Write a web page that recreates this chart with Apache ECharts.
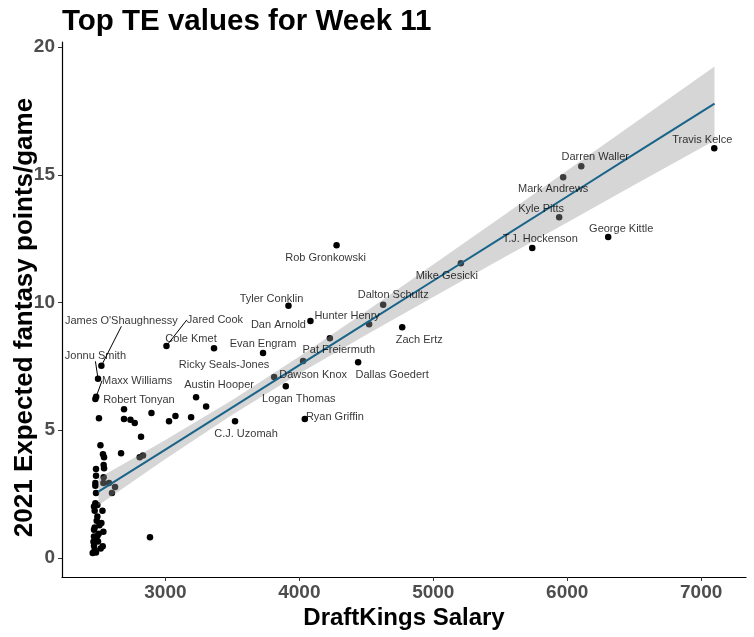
<!DOCTYPE html>
<html>
<head>
<meta charset="utf-8">
<script src="https://cdn.jsdelivr.net/npm/echarts@6/dist/echarts.min.js"></script>
<style>
html,body{margin:0;padding:0;background:#fff;}
#chart{width:754px;height:637px;}
</style>
</head>
<body>
<div id="chart"></div>
<script>
// ---- data ----
const playerNames = ["Travis Kelce","Darren Waller","Mark Andrews","Kyle Pitts","George Kittle","T.J. Hockenson",
  "Mike Gesicki","Rob Gronkowski","Dalton Schultz","Hunter Henry","Pat Freiermuth","Zach Ertz","Tyler Conklin",
  "Dan Arnold","Evan Engram","Cole Kmet","Ricky Seals-Jones","Dawson Knox","Logan Thomas","Dallas Goedert",
  "Austin Hooper","C.J. Uzomah","Ryan Griffin","Robert Tonyan"];
const playerSalary = [7098,6105,5970,5940,6306,5739,5206,4278,4626,4521,4228,4768,3919,4083,3729,3363,4028,3812,3899,4439,3229,3520,4041,2477];
const playerPoints = [16.04,15.33,14.90,13.34,12.56,12.13,11.54,12.24,9.91,9.15,8.60,9.03,9.87,9.27,8.02,8.21,7.71,7.08,6.72,7.66,6.29,5.35,5.44,6.22];

// labelled players whose labels are connected by a segment
const segNames = ["Jared Cook","James O'Shaughnessy","Jonnu Smith","Maxx Williams"];
const segSalary = [3008,2522,2497,2483];
const segPoints = [8.30,7.52,7.01,6.31];

// unlabelled players
const otherSalary = [2691,2504,2691,2739,2771,2896,3027,3075,3192,3304,2818,2515,2534,2542,2669,2808,2833,2539,2542,2482,
  2482,2539,2477,2477,2537,2579,2482,2624,2601,2477,2492,2467,2472,2530,2492,2487,2522,2507,2472,2467,2537,2502,2467,2492,
  2497,2463,2532,2517,2467,2472,2457,2482,2885];
const otherPoints = [5.82,5.47,5.44,5.41,5.28,5.67,5.35,5.55,5.51,5.93,4.74,4.41,4.06,3.94,4.10,3.94,4.01,3.64,3.51,3.48,
  3.21,3.16,2.93,2.82,2.93,2.93,2.54,2.77,2.54,2.14,2.07,2.01,1.84,1.84,1.62,1.45,1.36,1.28,1.19,1.10,1.02,0.94,0.84,0.86,
  0.64,0.63,0.45,0.37,0.47,0.32,0.19,0.21,0.81];

// fitted line and its confidence band
const fitX  = [2500,3000,3500,4000,4500,5000,5500,6000,6500,7100];
const fitY  = [2.59,4.24,5.89,7.55,9.20,10.85,12.50,14.15,15.81,17.79];
const fitLo = [2.06,3.87,5.60,7.22,8.74,10.21,11.68,13.13,14.60,16.34];
const fitHi = [3.12,4.61,6.18,7.88,9.66,11.49,13.32,15.17,17.02,19.24];

const xTicks = [3000,4000,5000,6000,7000];
const yTicks = [0,5,10,15,20];

// ---- label placement (style) ----
const labelOffsets = {
  "Travis Kelce":[-12,-8],"Darren Waller":[14,-9],"Mark Andrews":[-10,12],"Kyle Pitts":[-18,-8],
  "George Kittle":[13,-8],"T.J. Hockenson":[8,-9],"Mike Gesicki":[-14,13],"Rob Gronkowski":[-11,13],
  "Dalton Schultz":[10,-10],"Hunter Henry":[-22,-8],"Pat Freiermuth":[9,12],"Zach Ertz":[17,13],
  "Tyler Conklin":[-17,-7],"Dan Arnold":[-32,4],"Evan Engram":[0,-9],"Cole Kmet":[-23,-9],
  "Ricky Seals-Jones":[-79,4],"Dawson Knox":[39,-2],"Logan Thomas":[13,13],"Dallas Goedert":[34,13],
  "Austin Hooper":[23,-12],"C.J. Uzomah":[11,12.5],"Ryan Griffin":[30,-2],"Robert Tonyan":[43.6,1]
};
const segOffsets = {
  "Jared Cook":[48.5,-26],"James O'Shaughnessy":[20,-45],"Jonnu Smith":[-2.6,-23],"Maxx Williams":[41,-16]
};

const FONT = "Liberation Sans, Arial, Helvetica, sans-serif";

const allDots = []
  .concat(otherSalary.map((x,i)=>[x, otherPoints[i]]))
  .concat(playerSalary.map((x,i)=>[x, playerPoints[i]]))
  .concat(segSalary.map((x,i)=>[x, segPoints[i]]));

const labelData = playerSalary.map((x,i)=>({
  name: playerNames[i], value:[x, playerPoints[i]],
  label:{offset: labelOffsets[playerNames[i]]}
}));
const segData = segSalary.map((x,i)=>({name: segNames[i], value:[x, segPoints[i]]}));

const chart = echarts.init(document.getElementById('chart'), null, {renderer:'canvas'});
chart.setOption({
  animation:false,
  backgroundColor:'#ffffff',
  title:{
    text:'Top TE values for Week 11', left:62, top:7, padding:0,
    textStyle:{fontFamily:FONT, fontSize:29.5, fontWeight:'bold', color:'#000'}
  },
  grid:{left:62, right:8, top:42, bottom:60, containLabel:false, outerBoundsMode:'none'},
  xAxis:{
    type:'value', min:2228, max:7335,
    name:'DraftKings Salary', nameLocation:'middle', nameGap:29, nameMoveOverlap:false,
    nameTextStyle:{fontFamily:FONT, fontSize:24, fontWeight:'bold', color:'#000'},
    axisLine:{show:true, onZero:false, lineStyle:{color:'#000', width:1.2}},
    axisTick:{show:true, length:4, lineStyle:{color:'#333'}, customValues:xTicks},
    axisLabel:{fontFamily:FONT, fontSize:19, fontWeight:'bold', color:'#4d4d4d', margin:6,
      customValues:xTicks, formatter:function(v){return String(v);}},
    splitLine:{show:false}
  },
  yAxis:{
    type:'value', min:-0.75, max:20.2,
    name:'2021 Expected fantasy points/game', nameLocation:'middle', nameGap:24, nameRotate:90, nameMoveOverlap:false,
    nameTextStyle:{fontFamily:FONT, fontSize:26, fontWeight:'bold', color:'#000', padding:[0,16,0,0]},
    axisLine:{show:true, onZero:false, lineStyle:{color:'#000', width:1.2}},
    axisTick:{show:true, length:4, lineStyle:{color:'#333'}, customValues:yTicks},
    axisLabel:{fontFamily:FONT, fontSize:19, fontWeight:'bold', color:'#4d4d4d', margin:7,
      customValues:yTicks, formatter:function(v){return String(v);}},
    splitLine:{show:false}
  },
  series:[
    {
      type:'scatter', name:'dots', z:2, silent:true,
      symbol:'circle', symbolSize:6.5,
      itemStyle:{color:'#000', opacity:1},
      data: allDots
    },
    {
      type:'custom', name:'band', z:3, silent:true,
      data: fitX.map((x,i)=>[x, fitLo[i], fitHi[i]]),
      encode:{x:0, y:[1,2]},
      renderItem:function(params, api){
        if (params.dataIndex !== 0) return null;
        const up = fitX.map((x,i)=>api.coord([x, fitHi[i]]));
        const lo = fitX.map((x,i)=>api.coord([x, fitLo[i]])).reverse();
        return {type:'polygon', shape:{points: up.concat(lo)},
          style:{fill:'rgba(153,153,153,0.4)', stroke:null}};
      }
    },
    {
      type:'line', name:'fit', z:4, silent:true,
      symbol:'none', smooth:false,
      lineStyle:{color:'#1a6489', width:2},
      data: fitX.map((x,i)=>[x, fitY[i]])
    },
    {
      type:'scatter', name:'labels', z:6, silent:true,
      symbol:'circle', symbolSize:1, itemStyle:{color:'rgba(0,0,0,0)'},
      label:{show:true, position:'inside', formatter:'{b}',
        fontFamily:FONT, fontSize:11, color:'#000', textBorderWidth:0},
      data: labelData
    },
    {
      type:'scatter', name:'segLabels', z:6, silent:true,
      symbol:'circle', symbolSize:1, itemStyle:{color:'rgba(0,0,0,0)'},
      label:{show:true, position:'inside', formatter:'{b}',
        fontFamily:FONT, fontSize:11, color:'#000', textBorderWidth:0},
      labelLine:{show:true, lineStyle:{color:'#000', width:1}},
      labelLayout:function(p){
        const o = segOffsets[segNames[p.dataIndex]] || [0,0];
        return {dx:o[0], dy:o[1]};
      },
      data: segData
    }
  ]
});
</script>
</body>
</html>
